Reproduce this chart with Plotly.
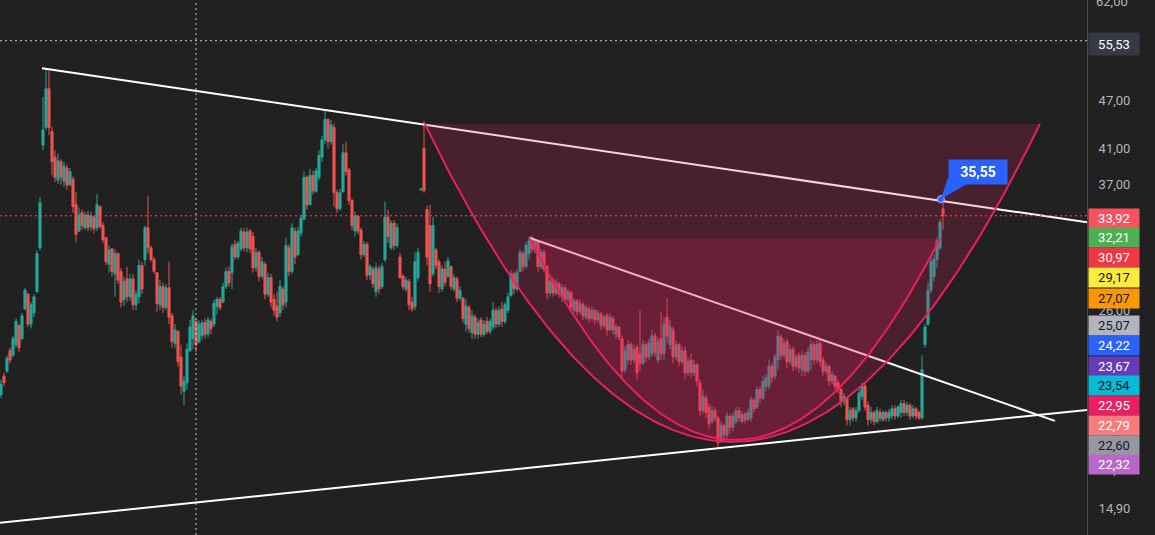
import math
import plotly.graph_objects as go

# ---------------- candle data (bar index 0..314) ----------------
open_ = [
    20.5, 21.6, 21.9, 23.2, 22.9, 23.6, 24.9, 24.0, 26.1, 27.2,
    25.0, 25.8, 27.4, 31.0, 41.4, 43.5, 48.5, 43.0, 40.0, 37.5,
    39.5, 37.4, 38.8, 37.0, 37.6, 35.0, 32.5, 34.2, 32.8, 34.0,
    32.9, 33.8, 32.8, 34.8, 33.0, 31.9, 29.6, 30.9, 28.8, 30.5,
    29.0, 26.8, 28.4, 27.0, 28.4, 26.4, 27.0, 29.5, 30.0, 32.8,
    31.0, 30.0, 28.9, 26.4, 27.8, 26.2, 27.7, 25.6, 23.7, 24.5,
    22.8, 20.7, 21.2, 23.2, 24.0, 25.2, 23.8, 24.2, 25.1, 24.3,
    25.2, 25.0, 26.3, 26.8, 26.6, 27.8, 29.0, 28.9, 31.3, 30.2,
    30.9, 32.4, 31.0, 32.5, 32.0, 29.3, 30.6, 28.6, 29.6, 27.2,
    28.5, 26.8, 26.3, 25.8, 27.6, 26.6, 31.0, 29.0, 32.5, 30.4,
    32.3, 33.6, 37.8, 35.0, 38.0, 36.3, 37.8, 40.0, 42.0, 44.5,
    41.8, 43.5, 36.2, 34.6, 36.3, 40.5, 38.6, 35.4, 32.5, 33.9,
    32.6, 30.4, 31.3, 28.7, 29.2, 27.4, 29.2, 27.8, 30.0, 33.8,
    31.0, 33.2, 31.2, 30.2, 28.6, 27.6, 28.2, 26.6, 26.3, 28.5,
    36.5, 41.0, 34.5, 33.0, 28.8, 30.8, 29.8, 27.6, 29.2, 28.6,
    29.4, 27.6, 28.4, 26.9, 26.9, 25.0, 26.2, 24.4, 25.5, 24.3,
    25.3, 24.3, 25.2, 24.5, 24.8, 26.0, 25.0, 26.1, 25.2, 26.0,
    27.1, 28.8, 27.6, 29.0, 30.5, 29.4, 30.5, 31.8, 30.8, 31.5,
    29.4, 30.6, 29.4, 27.3, 28.3, 27.3, 28.0, 27.0, 27.7, 26.8,
    27.3, 26.0, 26.7, 25.9, 26.4, 25.5, 26.1, 25.4, 26.0, 25.3,
    25.7, 24.9, 25.6, 24.6, 25.4, 24.3, 24.8, 24.0, 22.0, 22.6,
    23.6, 22.6, 23.4, 23.0, 22.4, 23.6, 22.8, 23.0, 24.2, 22.6,
    24.0, 23.0, 25.5, 23.6, 24.6, 22.8, 23.6, 22.5, 23.2, 21.8,
    22.6, 21.8, 22.3, 21.2, 19.6, 20.3, 19.8, 19.0, 19.6, 19.2,
    18.0, 18.8, 18.3, 19.3, 18.7, 19.0, 19.6, 19.0, 19.4, 19.1,
    19.2, 20.2, 19.8, 20.8, 20.3, 21.0, 21.0, 22.2, 21.6, 22.6,
    24.1, 22.9, 23.8, 22.5, 23.3, 22.2, 22.9, 22.0, 22.9, 21.9,
    22.6, 23.6, 22.6, 23.7, 22.6, 21.9, 22.2, 21.3, 21.6, 21.2,
    20.8, 20.1, 20.3, 19.1, 19.7, 19.2, 19.6, 20.4, 21.0, 19.9,
    19.1, 19.5, 19.0, 19.5, 19.1, 19.5, 19.2, 19.3, 19.7, 19.3,
    19.5, 20.0, 19.5, 19.9, 19.3, 19.7, 19.5, 19.2, 23.6, 25.0,
    27.5, 28.6, 30.0, 31.0, 34.6,
]
high = [
    21.4, 21.8, 22.9, 23.4, 24.2, 25.4, 25.0, 25.8, 27.7, 27.3,
    26.6, 27.2, 30.8, 35.7, 47.4, 51.3, 51.0, 43.6, 40.8, 40.4,
    39.8, 39.5, 39.2, 38.8, 37.9, 36.3, 34.7, 34.5, 34.3, 34.4,
    34.3, 34.0, 36.1, 34.9, 33.3, 31.9, 31.2, 31.0, 30.9, 30.6,
    29.3, 28.6, 29.4, 28.8, 28.8, 27.5, 30.0, 29.8, 33.0, 35.9,
    31.2, 30.2, 28.9, 28.3, 28.1, 28.0, 29.8, 25.8, 25.0, 24.6,
    23.6, 21.6, 23.7, 25.3, 26.0, 25.4, 25.3, 25.3, 25.4, 25.5,
    25.4, 26.8, 27.0, 27.0, 28.1, 29.3, 29.4, 31.4, 31.7, 31.6,
    32.8, 32.8, 32.8, 32.7, 32.4, 31.0, 30.8, 30.2, 29.8, 28.9,
    28.8, 27.2, 27.4, 28.3, 27.8, 31.9, 31.3, 33.2, 32.8, 32.9,
    34.0, 38.4, 38.0, 38.7, 38.5, 38.8, 40.8, 42.5, 45.7, 44.6,
    44.4, 44.0, 36.5, 36.6, 41.5, 41.8, 38.8, 35.6, 34.3, 34.0,
    32.8, 31.6, 31.5, 29.6, 29.4, 29.7, 29.5, 29.7, 35.3, 34.5,
    33.5, 33.5, 33.2, 30.5, 28.8, 28.6, 28.4, 27.0, 30.6, 31.0,
    36.7, 44.3, 34.9, 35.0, 33.8, 31.0, 30.0, 29.5, 29.8, 30.2,
    29.5, 28.8, 28.6, 27.8, 27.0, 26.8, 26.4, 26.0, 25.7, 25.4,
    25.5, 25.3, 25.5, 25.4, 26.6, 26.2, 26.3, 26.6, 26.6, 27.3,
    29.1, 29.0, 29.2, 30.9, 30.7, 31.5, 32.0, 32.1, 31.8, 31.6,
    30.9, 30.8, 29.5, 28.6, 28.5, 28.4, 28.2, 28.0, 27.9, 27.6,
    27.5, 26.9, 26.8, 26.8, 26.6, 26.4, 26.3, 26.3, 26.1, 26.0,
    25.9, 25.7, 25.8, 25.8, 25.6, 25.0, 24.9, 24.2, 23.5, 23.9,
    23.8, 23.6, 23.6, 26.0, 23.9, 23.8, 24.0, 24.6, 24.4, 24.1,
    25.9, 25.5, 26.9, 25.3, 24.8, 23.9, 23.7, 23.5, 23.5, 22.8,
    23.0, 22.6, 22.4, 21.4, 20.8, 20.5, 20.0, 19.9, 19.8, 19.3,
    19.0, 18.9, 19.5, 19.4, 19.5, 19.8, 19.8, 19.6, 19.5, 19.7,
    20.4, 20.3, 21.0, 21.0, 21.6, 21.7, 22.6, 22.4, 23.0, 24.6,
    24.3, 24.0, 24.0, 23.6, 23.5, 23.0, 23.1, 23.2, 23.1, 23.4,
    23.9, 23.8, 23.9, 23.9, 22.8, 22.5, 22.3, 21.9, 21.7, 21.4,
    20.9, 20.6, 20.4, 19.8, 19.8, 19.8, 20.8, 21.2, 21.2, 20.1,
    19.8, 19.6, 19.8, 19.7, 19.6, 19.6, 19.7, 19.9, 19.9, 19.9,
    20.2, 20.2, 20.1, 20.0, 19.9, 19.8, 19.6, 22.9, 25.0, 28.1,
    30.2, 30.4, 31.9, 33.6, 35.55,
]
low = [
    20.3, 21.0, 21.8, 22.4, 22.8, 23.4, 23.1, 23.9, 26.0, 24.8,
    24.7, 25.5, 27.3, 30.8, 40.8, 43.2, 42.6, 38.0, 37.3, 37.1,
    37.0, 36.8, 36.5, 36.9, 34.2, 31.5, 32.4, 32.6, 32.6, 32.5,
    32.5, 32.3, 32.5, 32.7, 31.4, 29.5, 28.9, 28.6, 27.0, 28.0,
    26.2, 26.3, 26.6, 26.7, 26.0, 26.0, 26.5, 27.2, 29.5, 30.5,
    29.8, 28.8, 25.9, 26.0, 25.8, 26.0, 25.0, 23.4, 23.4, 22.2,
    20.5, 19.9, 20.8, 23.1, 23.3, 23.1, 23.7, 23.9, 24.0, 24.1,
    24.3, 24.8, 25.7, 26.0, 26.6, 27.6, 27.8, 27.6, 30.0, 30.0,
    30.7, 30.7, 30.6, 30.5, 28.9, 29.0, 28.2, 28.4, 26.8, 27.0,
    26.2, 25.6, 25.2, 25.5, 26.0, 26.2, 28.6, 28.8, 29.6, 30.3,
    32.0, 33.5, 34.5, 35.0, 36.0, 36.2, 37.5, 39.5, 41.5, 41.0,
    41.4, 34.8, 34.2, 34.4, 36.2, 38.0, 35.0, 32.6, 32.0, 32.2,
    30.0, 30.2, 28.3, 28.3, 27.7, 27.0, 27.2, 27.6, 29.8, 31.4,
    30.8, 30.8, 31.0, 28.4, 27.5, 27.4, 26.0, 25.9, 26.0, 28.2,
    36.4, 36.2, 29.5, 27.4, 28.6, 29.2, 27.3, 27.4, 27.8, 28.5,
    27.5, 27.4, 26.6, 26.7, 25.1, 24.5, 24.4, 24.0, 24.0, 24.0,
    24.1, 24.1, 24.3, 24.3, 24.6, 24.7, 24.8, 24.8, 25.0, 25.8,
    27.0, 27.2, 27.4, 28.9, 29.0, 29.2, 30.0, 30.6, 30.5, 29.0,
    29.2, 28.9, 26.8, 27.0, 27.0, 27.1, 26.9, 26.6, 26.5, 26.6,
    25.9, 25.8, 25.6, 25.7, 25.3, 25.3, 25.1, 25.2, 25.0, 25.1,
    24.6, 24.7, 24.2, 24.5, 24.3, 24.0, 23.9, 21.4, 21.8, 22.3,
    22.3, 22.4, 21.4, 21.9, 22.3, 22.5, 22.6, 22.8, 22.8, 22.4,
    22.6, 22.6, 23.7, 23.3, 22.4, 22.6, 22.2, 22.3, 21.4, 21.6,
    21.5, 21.6, 21.0, 19.3, 19.4, 19.2, 18.6, 18.9, 19.0, 17.6,
    17.9, 18.0, 18.1, 18.4, 18.5, 18.9, 19.0, 18.9, 18.9, 19.0,
    19.0, 19.5, 19.7, 20.0, 20.2, 20.7, 20.8, 21.2, 21.4, 22.0,
    22.6, 22.7, 22.1, 22.3, 21.9, 22.0, 21.8, 21.6, 21.6, 21.8,
    22.0, 22.3, 22.4, 22.2, 21.6, 21.7, 21.0, 21.1, 20.8, 20.6,
    19.8, 19.9, 18.8, 18.8, 19.0, 19.0, 19.5, 20.2, 19.6, 18.8,
    18.9, 18.8, 18.9, 19.0, 19.0, 19.0, 19.0, 19.1, 19.1, 19.2,
    19.2, 19.3, 19.3, 19.1, 19.2, 19.1, 19.1, 19.1, 23.4, 24.9,
    27.3, 28.2, 29.3, 30.8, 32.6,
]
close = [
    21.1, 21.2, 22.7, 22.6, 24.0, 25.2, 23.4, 25.6, 27.5, 25.0,
    26.4, 27.0, 30.5, 35.2, 43.2, 48.5, 43.5, 39.5, 37.8, 39.6,
    37.8, 39.0, 37.0, 38.4, 34.8, 32.2, 34.0, 33.0, 34.0, 32.8,
    33.9, 32.7, 35.0, 32.9, 31.7, 29.8, 30.8, 29.0, 30.5, 28.3,
    26.6, 28.2, 27.0, 28.4, 26.4, 27.2, 29.5, 27.6, 32.8, 31.0,
    30.0, 29.0, 26.5, 27.8, 26.2, 27.7, 25.5, 23.8, 24.6, 22.5,
    21.0, 21.3, 23.3, 24.8, 25.6, 23.6, 25.0, 25.1, 24.3, 25.3,
    24.7, 26.5, 26.8, 26.2, 27.8, 29.0, 28.1, 31.1, 30.2, 31.4,
    32.5, 31.0, 32.4, 30.9, 29.3, 30.6, 28.6, 29.8, 27.2, 28.5,
    26.6, 26.0, 25.5, 27.8, 26.4, 31.2, 29.0, 32.8, 30.2, 32.5,
    33.7, 37.8, 35.0, 38.0, 36.4, 38.5, 40.2, 42.0, 44.5, 41.8,
    43.8, 36.2, 34.6, 36.2, 40.5, 38.4, 35.4, 33.0, 33.9, 32.5,
    30.4, 31.3, 28.7, 29.4, 28.0, 29.3, 27.6, 29.4, 33.8, 32.0,
    33.2, 31.2, 32.8, 28.5, 27.8, 28.3, 26.4, 26.1, 29.8, 30.6,
    36.6, 36.4, 30.2, 28.0, 33.0, 29.5, 27.8, 29.2, 28.1, 29.9,
    27.8, 28.5, 26.9, 27.5, 25.4, 26.3, 24.7, 25.6, 24.3, 25.1,
    24.3, 25.0, 24.5, 25.2, 26.0, 25.0, 26.0, 25.2, 26.4, 27.0,
    28.8, 27.6, 28.9, 30.6, 29.4, 31.2, 31.6, 30.9, 31.5, 29.4,
    30.6, 29.2, 27.3, 28.2, 27.3, 28.1, 27.2, 27.7, 26.8, 27.4,
    26.2, 26.7, 25.9, 26.5, 25.6, 26.2, 25.4, 26.0, 25.3, 25.8,
    24.9, 25.5, 24.6, 25.5, 24.6, 24.8, 24.1, 21.9, 23.2, 23.6,
    22.6, 23.3, 21.8, 22.4, 23.6, 22.8, 23.7, 24.2, 23.1, 23.8,
    23.0, 25.0, 24.2, 24.8, 22.8, 23.6, 22.5, 23.2, 21.8, 22.5,
    21.8, 22.3, 21.3, 19.6, 20.4, 19.5, 18.9, 19.6, 19.2, 17.9,
    18.8, 18.3, 19.3, 18.7, 19.3, 19.6, 19.2, 19.4, 19.1, 19.5,
    20.2, 19.7, 20.8, 20.3, 21.3, 21.5, 22.2, 21.5, 22.8, 24.2,
    22.9, 23.7, 22.5, 23.3, 22.2, 22.8, 22.1, 22.9, 21.9, 23.1,
    23.6, 22.6, 23.6, 22.5, 21.9, 22.2, 21.3, 21.7, 21.0, 20.8,
    20.1, 20.4, 19.1, 19.6, 19.2, 19.6, 20.6, 21.0, 19.8, 19.1,
    19.5, 19.0, 19.6, 19.2, 19.5, 19.2, 19.5, 19.7, 19.3, 19.8,
    20.0, 19.5, 19.9, 19.3, 19.7, 19.3, 19.2, 22.0, 24.8, 27.5,
    29.8, 30.0, 31.6, 33.3, 33.92,
]
bar_index = list(range(len(close)))

# ---------------- drawings anchored on (bar index, price) ----------------
upper_trend_idx = [13.67, 362.0]
upper_trend_price = [51.4, 33.3]
lower_trend_idx = [-0.33, 362.0]
lower_trend_price = [14.29, 19.64]
mid_trend_idx = [176.3, 351.3]
mid_trend_price = [31.87, 19.04]

outer_arc = {"start": 141.3, "end": 346.3, "rim": 43.93, "bottom": 17.95}
inner_arc = {"start": 176.3, "end": 313.0, "rim": 31.8, "bottom": 18.05}

hline_price = 55.53
last_price = 33.92
vline_idx = 65
callout_idx = 313.3
callout_price = 35.55
callout_text = "35,55"

tick_vals = [14.9, 16.6, 26.0, 37.0, 41.0, 47.0]
tick_text = ["14,90", "16,60", "26,00", "37,00", "41,00", "47,00"]
top_tick_val = 62.0
top_tick_text = "62,00"

side_label_text = ["33,92", "32,21", "30,97", "29,17", "27,07", "25,07", "24,22",
                   "23,67", "23,54", "22,95", "22,79", "22,60", "22,32"]
side_label_bg = ["#f7525f", "#4caf50", "#f23645", "#ffeb3b", "#ff9800", "#b2b5be", "#2962ff",
                 "#673ab7", "#00bcd4", "#e91e63", "#f77c80", "#9598a1", "#ba68c8"]
side_label_fg = ["#ffffff", "#ffffff", "#ffffff", "#131722", "#131722", "#131722", "#ffffff",
                 "#ffffff", "#131722", "#ffffff", "#ffffff", "#131722", "#ffffff"]

# ---------------- layout constants ----------------
W, H = 1155, 535
RIGHT = 68
PLOT_W = W - RIGHT
BG = "#212121"
FONT = "Roboto, 'Open Sans', sans-serif"
side_label_ypx = [218, 237.5, 257, 277, 298, 325, 345.5, 366, 385, 405.5, 425, 445, 464]
hline_label_ypx = 44

X_RANGE = [-1 / 3, -1 / 3 + PLOT_W / 3]
Y_RANGE = [math.log10(13.81), math.log10(62.27)]


def arc_points(a, n=161):
    xc = (a["start"] + a["end"]) / 2
    half = (a["end"] - a["start"]) / 2
    lb, lr = math.log10(a["bottom"]), math.log10(a["rim"])
    xs, ys = [], []
    for k in range(n):
        t = -1 + 2 * k / (n - 1)
        xs.append(xc + t * half)
        ys.append(10 ** (lb + (lr - lb) * t * t))
    return xs, ys


fig = go.Figure()

fig.add_trace(go.Candlestick(
    x=bar_index, open=open_, high=high, low=low, close=close,
    increasing=dict(line=dict(color="#26a69a", width=1), fillcolor="#26a69a"),
    decreasing=dict(line=dict(color="#ef5350", width=1), fillcolor="#ef5350"),
    whiskerwidth=0, hoverinfo="skip", showlegend=False,
))

for xs, ys in [(upper_trend_idx, upper_trend_price),
               (lower_trend_idx, lower_trend_price),
               (mid_trend_idx, mid_trend_price)]:
    fig.add_trace(go.Scatter(x=xs, y=ys, mode="lines",
                             line=dict(color="#ffffff", width=2),
                             hoverinfo="skip", showlegend=False))

PINK = "#ec1f61"
arcs = [arc_points(outer_arc), arc_points(inner_arc)]
for xs, ys in arcs:
    fig.add_trace(go.Scatter(x=xs + [xs[0]], y=ys + [ys[0]], mode="lines",
                             fill="toself", fillcolor="rgba(233,30,99,0.2)",
                             line=dict(width=0, color="rgba(0,0,0,0)"),
                             hoverinfo="skip", showlegend=False))
for xs, ys in arcs:
    fig.add_trace(go.Scatter(x=xs, y=ys, mode="lines",
                             line=dict(color=PINK, width=2),
                             hoverinfo="skip", showlegend=False))

# dotted guide lines
fig.add_shape(type="line", xref="paper", x0=0, x1=1, yref="y", y0=hline_price, y1=hline_price,
              line=dict(color="rgba(230,230,230,0.85)", width=1, dash="2px,3px"), layer="above")
fig.add_shape(type="line", xref="paper", x0=0, x1=1, yref="y", y0=last_price, y1=last_price,
              line=dict(color="#f7525f", width=1, dash="2px,3px"), layer="above")
fig.add_shape(type="line", xref="x", x0=vline_idx, x1=vline_idx, yref="paper", y0=0, y1=1,
              line=dict(color="rgba(230,230,230,0.85)", width=1, dash="2px,3px"), layer="above")

# callout pointer + dot + box
fig.add_shape(type="path", xref="x", yref="y", xsizemode="pixel", ysizemode="pixel",
              xanchor=callout_idx, yanchor=callout_price,
              path="M 0,0 L 7,21 L 26,15 Z", fillcolor="#2962ff",
              line=dict(width=0), layer="above")
fig.add_trace(go.Scatter(x=[callout_idx], y=[callout_price], mode="markers",
                         marker=dict(color="#2962ff", size=7, line=dict(color="#a9bcff", width=1)),
                         hoverinfo="skip", showlegend=False))
fig.add_annotation(x=callout_idx, y=math.log10(callout_price), xref="x", yref="y",
                   text="<b>" + callout_text + "</b>", showarrow=False,
                   xshift=37, yshift=27, width=58, height=24, borderpad=0,
                   bgcolor="#2962ff", font=dict(color="#ffffff", size=14, family=FONT))

# top tick label (sits on the upper edge, partly cut off)
fig.add_annotation(xref="paper", yref="y", x=1, y=math.log10(top_tick_val),
                   xanchor="left", yanchor="middle", xshift=7, text=top_tick_text,
                   showarrow=False, font=dict(color="#b2b5be", size=13, family=FONT))

# right-hand price labels
fig.add_annotation(xref="paper", yref="paper", x=1, y=1 - hline_label_ypx / H,
                   xanchor="left", yanchor="middle", xshift=1, text="55,53",
                   showarrow=False, width=50, height=22, borderpad=0,
                   bgcolor="#363a45", font=dict(color="#ffffff", size=13, family=FONT))
for txt, bg, fg, ypx in zip(side_label_text, side_label_bg, side_label_fg, side_label_ypx):
    fig.add_annotation(xref="paper", yref="paper", x=1, y=1 - ypx / H,
                       xanchor="left", yanchor="middle", xshift=1, text=txt,
                       showarrow=False, width=50, height=19, borderpad=0,
                       bgcolor=bg, font=dict(color=fg, size=13, family=FONT))

fig.update_layout(
    width=W, height=H,
    margin=dict(l=0, r=RIGHT, t=0, b=0),
    paper_bgcolor=BG, plot_bgcolor=BG,
    showlegend=False,
    font=dict(family=FONT, color="#b2b5be", size=13),
    boxgap=0.3, boxgroupgap=0,
    xaxis=dict(range=X_RANGE, showgrid=False, zeroline=False, showticklabels=False,
               showline=False, rangeslider=dict(visible=False), fixedrange=True),
    yaxis=dict(type="log", range=Y_RANGE, side="right", showgrid=False, zeroline=False,
               tickvals=tick_vals, ticktext=tick_text, ticks="", ticklabelstandoff=8,
               showline=True, linecolor="#4a4d55", linewidth=1,
               tickfont=dict(color="#b2b5be", size=13, family=FONT), fixedrange=True),
)

fig.write_html(
    "out.html",
    config={"displayModeBar": False},
    post_script="document.body.style.margin='0';document.body.style.padding='0';"
                "document.body.style.background='#212121';document.body.style.overflow='hidden';",
)
